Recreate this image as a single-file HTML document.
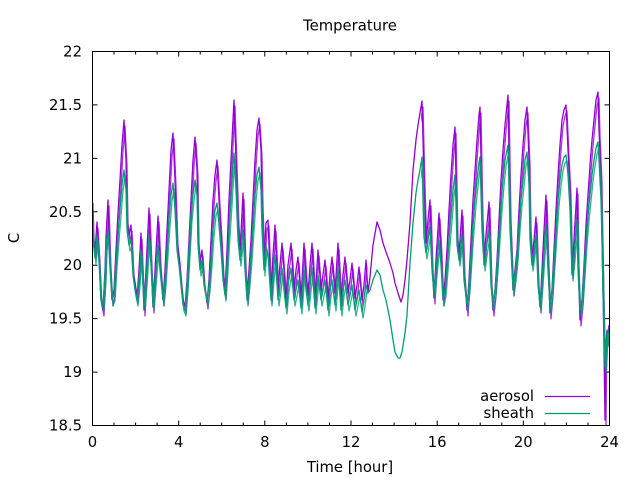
<!DOCTYPE html>
<html><head><meta charset="utf-8"><style>
html,body{margin:0;padding:0;background:#fff;}
svg{display:block;}
text{font-family:"DejaVu Sans","Liberation Sans",sans-serif;font-size:14.8px;fill:#000;}
</style></head><body>
<svg width="640" height="480" viewBox="0 0 640 480" xmlns="http://www.w3.org/2000/svg">
<defs>
<polyline id="pa" fill="none" stroke="#9400d3" stroke-width="1.3" stroke-linejoin="round" points="92,197 93,233 95,252 97,222 99,256 101,300 103,310 105,270 106,237 108,200 110,262 112,300 114,290 116,250 118,213 120,180 122,145 124,120 126,160 127,217 129,235 131,225 133,270 135,283 137,297 139,270 141,233 142,260 144,310 146,270 149,208 151,260 153,307 155,270 158,216 160,260 163,300 165,270 167,230 169,190 171,150 173,133 175,180 177,240 179,257 181,280 183,300 185,307 187,280 189,240 191,200 193,160 195,137 197,170 198,237 200,263 202,250 204,280 207,303 209,280 211,240 213,200 215,175 217,160 219,200 221,233 223,270 225,293 227,250 229,200 231,160 233,120 234,100 236,160 238,220 240,250 241,233 243,193 245,260 247,297 249,270 251,240 253,200 255,160 257,130 259,118 261,150 262,200 264,260 266,223 268,220 271,297 273,255 275,225 278,290 280,265 282,243 284,270 286,300 288,265 291,243 294,292 296,270 298,257 301,300 304,243 306,275 308,295 310,265 312,243 315,300 318,250 321,290 323,275 325,260 328,300 330,275 332,257 335,293 338,243 341,300 343,275 345,257 348,293 350,280 352,263 355,298 357,285 359,267 362,300 364,285 366,260 368,293 370,277 373,245 377,222 380,230 383,243 386,252 390,263 393,273 395,283 398,293 401,302 403,295 405,280 407,260 410,223 413,170 416,140 418,125 420,113 422,101 423,140 424,180 426,243 428,220 430,200 432,263 434,298 436,260 439,213 441,250 443,300 445,280 447,250 449,210 451,175 453,145 455,127 456,180 457,233 459,255 462,210 464,270 467,310 469,280 471,240 473,200 475,170 477,140 479,115 480,107 482,213 484,260 486,235 489,202 491,280 493,310 495,290 497,260 499,220 501,180 503,150 505,125 507,105 508,95 510,213 513,290 515,270 517,250 519,210 521,175 523,145 525,120 527,107 529,160 530,223 532,260 534,240 536,217 538,280 540,307 542,270 544,230 546,195 548,260 550,313 552,290 554,250 556,210 558,175 560,145 562,120 564,110 566,105 568,150 570,190 572,273 574,240 577,188 578,260 580,320 582,300 584,265 586,225 588,195 590,165 592,140 594,120 596,100 598,92 599,130 601,177 602,240 603,293 604,347 604.5,385 605,420 605.5,370 606,343 607,330 608,340 609,325"/>
<polyline id="pb" fill="none" stroke="#009e73" stroke-width="1.3" stroke-linejoin="round" points="92,215 93,240 95,258 97,235 99,262 101,300 103,305 105,275 106,245 108,230 110,268 112,300 114,295 116,262 118,235 120,210 122,185 124,170 126,190 127,230 129,245 131,240 133,275 135,290 137,300 139,280 141,250 142,265 144,305 146,280 149,235 151,265 153,305 155,280 158,245 160,270 163,300 165,280 167,250 169,220 171,195 173,183 175,210 177,250 179,265 181,285 183,305 185,310 187,285 189,250 191,215 193,195 195,180 197,195 198,245 200,270 202,260 204,285 207,300 209,285 211,260 213,230 215,210 217,203 219,225 221,250 223,280 225,295 227,265 229,230 231,200 233,165 234,153 236,190 238,240 240,260 241,250 243,230 245,270 247,300 249,280 251,255 253,225 255,195 257,175 259,167 261,190 262,230 264,270 266,245 268,255 271,300 273,275 275,255 278,300 280,285 282,268 284,290 286,308 288,285 291,268 294,300 296,290 298,280 301,308 304,268 306,290 308,305 310,285 312,268 315,308 318,275 321,300 323,290 325,280 328,310 330,290 332,280 335,305 338,268 341,310 343,290 345,280 348,305 350,295 352,285 355,310 357,300 359,290 362,312 364,300 366,285 368,293 370,290 373,280 377,270 380,275 383,290 386,300 390,320 393,340 395,352 398,358 400,358 402,352 405,333 407,315 410,263 413,223 416,193 418,180 420,170 422,157 423,200 424,237 426,253 428,240 430,227 432,270 434,293 436,270 439,240 441,265 443,300 445,290 447,265 449,240 451,215 453,190 455,175 456,205 457,245 459,260 462,235 464,280 467,305 469,285 471,255 473,225 475,200 477,180 479,163 480,157 482,230 484,265 486,250 489,230 491,285 493,305 495,290 497,265 499,235 501,205 503,180 505,160 507,150 508,145 510,230 513,290 515,275 517,255 519,225 521,200 523,180 525,160 527,152 529,185 530,240 532,265 534,250 536,235 538,285 540,305 542,280 544,250 546,225 548,270 550,308 552,290 554,260 556,230 558,200 560,180 562,165 564,157 566,155 568,175 570,210 572,275 574,255 577,220 578,270 580,310 582,300 584,270 586,240 588,215 590,195 592,175 594,160 596,148 598,142 599,160 601,200 602,240 603,293 604,333 605,367 606,353 607,333 608,340 609,330"/>
<clipPath id="cp"><rect x="92.5" y="51.5" width="517" height="374"/></clipPath>
<clipPath id="cp2"><rect x="92.5" y="51.5" width="275" height="374"/><rect x="421" y="51.5" width="188.5" height="374"/></clipPath>
</defs>
<rect width="640" height="480" fill="#fff"/>
<text x="350" y="30.5" text-anchor="middle">Temperature</text>
<text transform="translate(19,238) rotate(-90)" text-anchor="middle">C</text>
<text x="350" y="472" text-anchor="middle">Time [hour]</text>
<g text-anchor="end">
<text x="82" y="56.5">22</text>
<text x="82" y="109.9">21.5</text>
<text x="82" y="163.4">21</text>
<text x="82" y="216.8">20.5</text>
<text x="82" y="270.2">20</text>
<text x="82" y="323.6">19.5</text>
<text x="82" y="377.1">19</text>
<text x="82" y="430.5">18.5</text>
</g>
<g text-anchor="middle">
<text x="92.5" y="447">0</text>
<text x="178.7" y="447">4</text>
<text x="264.8" y="447">8</text>
<text x="351" y="447">12</text>
<text x="437.2" y="447">16</text>
<text x="523.3" y="447">20</text>
<text x="609.5" y="447">24</text>
</g>
<g stroke="#000" stroke-width="1" fill="none">
<path d="M92.5,51.5 H97.5 M92.5,104.9 H97.5 M92.5,158.4 H97.5 M92.5,211.8 H97.5 M92.5,265.2 H97.5 M92.5,318.6 H97.5 M92.5,372.1 H97.5
M609.5,51.5 H604.5 M609.5,104.9 H604.5 M609.5,158.4 H604.5 M609.5,211.8 H604.5 M609.5,265.2 H604.5 M609.5,318.6 H604.5 M609.5,372.1 H604.5"/>
<path d="M92.5,425.5 V420.5 M178.7,425.5 V420.5 M264.8,425.5 V420.5 M351,425.5 V420.5 M437.2,425.5 V420.5 M523.3,425.5 V420.5
M92.5,51.5 V56.5 M178.7,51.5 V56.5 M264.8,51.5 V56.5 M351,51.5 V56.5 M437.2,51.5 V56.5 M523.3,51.5 V56.5"/>
<path d="M114,425.5 V422.5 M135.6,425.5 V422.5 M157.1,425.5 V422.5 M200.2,425.5 V422.5 M221.7,425.5 V422.5 M243.3,425.5 V422.5 M286.4,425.5 V422.5 M307.9,425.5 V422.5 M329.5,425.5 V422.5 M372.5,425.5 V422.5 M394.1,425.5 V422.5 M415.6,425.5 V422.5 M458.7,425.5 V422.5 M480.2,425.5 V422.5 M501.8,425.5 V422.5 M544.9,425.5 V422.5 M566.4,425.5 V422.5 M588,425.5 V422.5
M114,51.5 V54.5 M135.6,51.5 V54.5 M157.1,51.5 V54.5 M200.2,51.5 V54.5 M221.7,51.5 V54.5 M243.3,51.5 V54.5 M286.4,51.5 V54.5 M307.9,51.5 V54.5 M329.5,51.5 V54.5 M372.5,51.5 V54.5 M394.1,51.5 V54.5 M415.6,51.5 V54.5 M458.7,51.5 V54.5 M480.2,51.5 V54.5 M501.8,51.5 V54.5 M544.9,51.5 V54.5 M566.4,51.5 V54.5 M588,51.5 V54.5"/>
</g>
<g clip-path="url(#cp2)">
<use href="#pa" transform="translate(1,6)" opacity="0.8"/>
</g>
<g clip-path="url(#cp)">
<use href="#pa"/>
</g>
<g clip-path="url(#cp2)">
<use href="#pb" transform="translate(1,6)" opacity="0.8"/>
</g>
<g clip-path="url(#cp)">
<use href="#pb"/>
</g>
<text x="534" y="401" text-anchor="end">aerosol</text>
<line x1="545" y1="396.5" x2="590" y2="396.5" stroke="#9400d3" stroke-width="1.2"/>
<text x="534" y="418" text-anchor="end">sheath</text>
<line x1="545" y1="413.5" x2="590" y2="413.5" stroke="#009e73" stroke-width="1.2"/>
<rect x="92.5" y="51.5" width="517" height="374" fill="none" stroke="#000" stroke-width="1"/>
</svg>
</body></html>
